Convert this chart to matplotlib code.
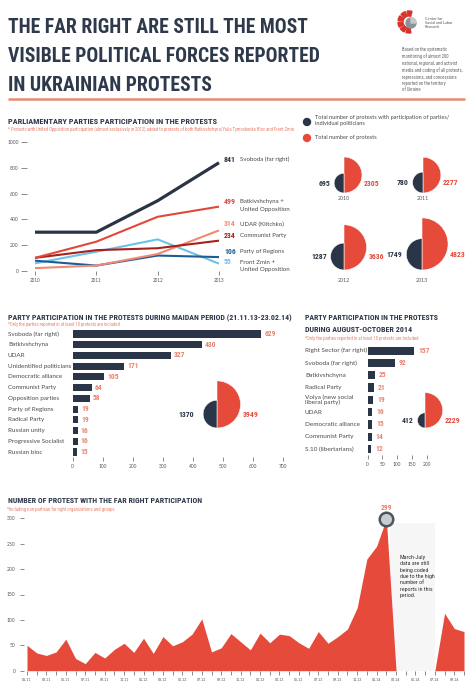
import matplotlib
matplotlib.use('Agg')
import matplotlib.pyplot as plt
import numpy as np
from matplotlib import font_manager
from matplotlib.patches import Wedge, Circle, Rectangle
from matplotlib.transforms import blended_transform_factory

# ---- data ----
years = [2010, 2011, 2012, 2013]
svoboda = [300, 300, 545, 841]
batkivshchyna = [100, 226, 420, 499]
udar = [20, 40, 130, 314]
communist = [100, 160, 175, 234]
regions = [78, 40, 118, 106]
front_zmin = [57, 148, 244, 55]
line_names = ['Svoboda (far right)', 'Batkivshchyna +\nUnited Opposition', 'UDAR (Klitchko)',
              'Communist Party', 'Party of Regions', 'Front Zmin +\nUnited Opposition']

pie_years = ['2010', '2011', '2012', '2013']
with_parties = [695, 780, 1287, 1749]
total_protests = [2305, 2277, 3636, 4823]

maidan_parties = ['Svoboda (far right)', 'Batkivshchyna', 'UDAR', 'Unidentified politicians',
                  'Democratic alliance', 'Communist Party', 'Opposition parties', 'Party of Regions',
                  'Radical Party', 'Russian unity', 'Progressive Socialist', 'Russian bloc']
maidan_values = [629, 430, 327, 171, 105, 64, 58, 19, 19, 16, 16, 15]
maidan_pie = [1370, 3949]

aug_parties = ['Right Sector (far right)', 'Svoboda (far right)', 'Batkivshchyna', 'Radical Party',
               'Volya (new social\nliberal party)', 'UDAR', 'Democratic alliance', 'Communist Party',
               'S.10 (libertarians)']
aug_values = [157, 92, 25, 21, 19, 16, 15, 14, 12]
aug_pie = [412, 2229]

far_right_monthly = [50, 35, 30, 37, 62, 24, 14, 36, 25, 42, 54, 36,
                     64, 34, 67, 49, 57, 72, 102, 37, 45, 73, 57, 41,
                     74, 55, 72, 69, 55, 44, 77, 54, 67, 82, 124, 220,
                     245, 299, 0, 0, 0, 0, 0, 113, 83, 77]
month_ticks = ['01.11', '03.11', '05.11', '07.11', '09.11', '11.11', '01.12', '03.12',
               '05.12', '07.12', '09.12', '11.12', '01.13', '03.13', '05.13', '07.13',
               '09.13', '11.13', '01.14', '03.14', '05.14', '07.14', '09.14']

# ---- style ----
NAVY = '#2b3548'
RED = '#e64a3b'
SALMON = '#e8826e'
TXT = '#4a4a4a'
names = {f.name for f in font_manager.fontManager.ttflist}
HEAD = next(f for f in ['Roboto Condensed', 'Liberation Sans Narrow', 'Open Sans Condensed',
                        'DejaVu Sans'] if f in names or f == 'DejaVu Sans')
BODY = 'Lato' if 'Lato' in names else 'DejaVu Sans'

W, H = 474, 698
fig = plt.figure(figsize=(W / 100, H / 100), dpi=100, facecolor='white')
renderer = fig.canvas.get_renderer()


def px_axes(x0, y0, x1, y1):
    ax = fig.add_axes([x0 / W, 1 - y1 / H, (x1 - x0) / W, (y1 - y0) / H])
    ax.patch.set_alpha(0)
    for s in ax.spines.values():
        s.set_visible(False)
    return ax


# overlay in pixel coordinates for texts and half-circle "pies"
ov = fig.add_axes([0, 0, 1, 1], zorder=10)
ov.set_xlim(0, W)
ov.set_ylim(H, 0)
ov.axis('off')
ov.patch.set_alpha(0)


def fit(t, width):
    bb = t.get_window_extent(renderer=renderer)
    t.set_fontsize(t.get_fontsize() * width / bb.width)
    return t


def heading(x, y, s, width, color=NAVY):
    t = ov.text(x, y, s, family=HEAD, weight='bold', color=color, fontsize=10, va='baseline')
    return fit(t, width)


def note(x, y, s, width):
    t = ov.text(x, y, s, family=HEAD, color=SALMON, fontsize=4, va='baseline')
    return fit(t, width)


# ---- header ----
heading(8, 33, 'THE FAR RIGHT ARE STILL THE MOST', 299, '#2e3a4b')
heading(8, 62, 'VISIBLE POLITICAL FORCES REPORTED', 310, '#2e3a4b')
heading(8, 91, 'IN UKRAINIAN PROTESTS', 203, '#2e3a4b')
for a in range(80, 290, 36):
    ov.add_patch(Wedge((409, 22), 11, a, a + 26, width=5, color='#d9342b'))
ov.add_patch(Circle((411, 23), 5, color='#8d9296'))
ov.add_patch(Wedge((411, 23), 5, -90, 0, color='#c5c8cb'))
ov.text(425, 23, 'Center for\nSocial and Labor\nResearch', family=BODY, fontsize=2.8,
        color='#555', va='center', linespacing=1.1)
ov.text(402, 47, 'Based on the systematic\nmonitoring of almost 200\nnational, regional, and activist\n'
        'media and coding of all protests,\nrepressions, and concessions\nreported on the territory\nof Ukraine',
        family=HEAD, fontsize=3.3, color='#666', va='top', linespacing=1.35)
ov.plot([8, 465], [99, 99], color='#ea8a72', lw=1.8, solid_capstyle='butt')

# ---- parliamentary parties lines ----
heading(8, 124, 'PARLIAMENTARY PARTIES PARTICIPATION IN THE PROTESTS', 210)
note(8, 132, '* Protests with United Opposition participation (almost exclusively in 2012) added to '
     'protests of both Batkivshchyna/Yulia Tymoshenko Bloc and Front Zmin', 284)

ax1 = px_axes(27, 142.3, 219, 270.7)
ax1.set_xlim(2010 - 8 / 61.33, 2013)
ax1.set_ylim(0, 1000)
series = [(front_zmin, '#6cc3ea', 1.5), (regions, '#1e5c93', 1.5), (udar, '#f08a72', 1.5),
          (communist, '#a8201c', 1.5), (batkivshchyna, '#e2473a', 1.5), (svoboda, '#2b3445', 2.3)]
for vals, c, lw in series:
    ax1.plot(years, vals, color=c, lw=lw, clip_on=False, solid_capstyle='butt')
ax1.set_xticks(years)
ax1.set_yticks(range(0, 1001, 200))
ax1.tick_params(axis='x', direction='out', length=3, width=0.6, color='#777',
                labelsize=3.3, labelcolor='#555', pad=2)
ax1.tick_params(axis='y', direction='out', length=4, width=0.6, color='#777',
                labelsize=3.6, labelcolor='#555', pad=2)
for lab in ax1.get_xticklabels() + ax1.get_yticklabels():
    lab.set_family(BODY)

end_vals = [svoboda[-1], batkivshchyna[-1], udar[-1], communist[-1], regions[-1], front_zmin[-1]]
end_cols = ['#2b3445', '#e2473a', '#f08a72', '#a8201c', '#1e5c93', '#6cc3ea']
end_y = [159, 202, 224, 236, 252, 262]
for v, c, y, nm in zip(end_vals, end_cols, end_y, line_names):
    ov.text(224, y, str(v), family=HEAD, weight='bold', fontsize=5.6, color=c, va='center')
    for k, part in enumerate(nm.split('\n')):
        ov.text(240, y + 7.7 * k, part, family=BODY, fontsize=4.4, color=TXT, va='center')

# ---- half-circle charts ----
K = 0.375


def half_pie(cx, base, small, big, lab_gap=4):
    R = K * np.sqrt(big)
    r = K * np.sqrt(small)
    ov.add_patch(Wedge((cx, base - R), R, -90, 90, facecolor=RED, edgecolor='white', lw=0.4))
    ov.add_patch(Wedge((cx, base - r), r, 90, 270, facecolor=NAVY, edgecolor='white', lw=0.4))
    ov.text(cx - r - lab_gap, base - r, str(small), family=HEAD, weight='bold', fontsize=5.6,
            color=NAVY, ha='right', va='center')
    ov.text(cx + R + 2, base - r, str(big), family=HEAD, weight='bold', fontsize=5.6,
            color=RED, ha='left', va='center')


ov.add_patch(Circle((307, 122), 3.5, color=NAVY))
ov.add_patch(Circle((307, 138), 3.5, color=RED))
ov.text(315, 120.5, 'Total number of protests with participation of parties/\nindividual politicians',
        family=BODY, fontsize=4.1, color=TXT, va='center', linespacing=1.2)
ov.text(315, 138, 'Total number of protests', family=BODY, fontsize=4.1, color=TXT, va='center')

pie_cx = [344, 423, 344, 422]
pie_base = [193, 193, 270, 270]
year_y = [199, 199, 280, 280]
for cx, b, yy, s, t, yl in zip(pie_cx, pie_base, year_y, with_parties, total_protests, pie_years):
    half_pie(cx, b, s, t)
    ov.text(cx, yy, yl, family=BODY, fontsize=3.8, color='#555', ha='center', va='center')

# ---- Maidan period bars ----
heading(8, 320, 'PARTY PARTICIPATION IN THE PROTESTS DURING MAIDAN PERIOD (21.11.13-23.02.14)', 282)
note(8, 326, '*Only the parties reported in at least 10 protests are included', 111)

ax2 = px_axes(72.7, 328.6, 282.7, 457.4)
ypos = np.arange(len(maidan_values))
ax2.barh(ypos, maidan_values, height=0.66, color=NAVY)
ax2.set_ylim(len(maidan_values) - 0.5, -0.5)
ax2.set_xlim(0, 700)
ax2.set_xticks(range(0, 701, 100))
ax2.set_yticks([])
ax2.tick_params(axis='x', direction='out', length=3, width=0.6, color='#777',
                labelsize=3.5, labelcolor='#555', pad=2)
for lab in ax2.get_xticklabels():
    lab.set_family(BODY)
tr2 = blended_transform_factory(ov.transData, ax2.transData)
for i, (nm, v) in enumerate(zip(maidan_parties, maidan_values)):
    ax2.text(8, i, nm, transform=tr2, family=BODY, fontsize=4.5, color=TXT, va='center')
    ax2.annotate(str(v), (v, i), xytext=(3, 0), textcoords='offset pixels', family=HEAD,
                 weight='bold', fontsize=5.4, color=SALMON, va='center')
half_pie(217, 428, maidan_pie[0], maidan_pie[1], lab_gap=9)

# ---- August-October 2014 bars ----
heading(305, 320, 'PARTY PARTICIPATION IN THE PROTESTS', 133)
heading(305, 331.7, 'DURING AUGUST-OCTOBER 2014', 106)
note(305, 340, '*Only the parties reported in at least 10 protests are included', 112)

ax3 = px_axes(367.7, 344.5, 444, 455.2)
ypos = np.arange(len(aug_values))
ax3.barh(ypos, aug_values, height=0.66, color=NAVY)
ax3.set_ylim(len(aug_values) - 0.5, -0.5)
ax3.set_xlim(0, 76.3 / 0.295)
ax3.set_xticks(range(0, 201, 50))
ax3.set_yticks([])
ax3.tick_params(axis='x', direction='out', length=3, width=0.6, color='#777',
                labelsize=3.5, labelcolor='#555', pad=2)
for lab in ax3.get_xticklabels():
    lab.set_family(BODY)
tr3 = blended_transform_factory(ov.transData, ax3.transData)
for i, (nm, v) in enumerate(zip(aug_parties, aug_values)):
    ax3.text(305, i, nm, transform=tr3, family=BODY, fontsize=4.6, color=TXT, va='center',
             linespacing=1.05)
    ax3.annotate(str(v), (v, i), xytext=(4, 0), textcoords='offset pixels', family=HEAD,
                 weight='bold', fontsize=5.4, color=SALMON, va='center')
half_pie(425, 428, aug_pie[0], aug_pie[1], lab_gap=4)

# ---- far right monthly area ----
heading(8, 502.7, 'NUMBER OF PROTEST WITH THE FAR RIGHT PARTICIPATION', 194)
note(7, 511, '*Including non-partisan far right organizations and groups', 108)

ax4 = px_axes(24, 518.3, 464, 670.7)
months = np.arange(len(far_right_monthly))
ax4.set_xlim(-3 / 9.711, months[-1])
ax4.set_ylim(0, 300)
ax4.add_patch(Rectangle((37.4, 0), 4.6, 291, color='#f6f6f6', zorder=0, lw=0))
ax4.fill_between(months, far_right_monthly, color=RED, lw=0, zorder=1)
peak = int(np.argmax(far_right_monthly))
ax4.scatter([peak], [far_right_monthly[peak]], s=95, facecolor='#c9ccd0', edgecolor='#4d555c',
            linewidths=1.8, zorder=3, clip_on=False)
ax4.annotate(str(far_right_monthly[peak]), (peak, far_right_monthly[peak]), xytext=(0, 11),
             textcoords='offset pixels', family=HEAD, weight='bold', fontsize=5.4, color=SALMON,
             ha='center', va='center', annotation_clip=False)
ax4.text(38.4, 228, 'March-July\ndata are still\nbeing coded\ndue to the high\nnumber of\nreports in this\nperiod.',
         family=HEAD, fontsize=4.3, color='#333', va='top', linespacing=1.35)
ax4.set_xticks(months)
ax4.set_xticklabels([month_ticks[i // 2] if i % 2 == 0 else '' for i in months])
ax4.set_yticks(range(0, 301, 50))
ax4.tick_params(axis='x', direction='out', length=3, width=0.6, color='#777',
                labelsize=2.6, labelcolor='#555', pad=2)
ax4.tick_params(axis='y', direction='out', length=3, width=0.6, color='#777',
                labelsize=3.6, labelcolor='#555', pad=3)
for lab in ax4.get_xticklabels() + ax4.get_yticklabels():
    lab.set_family(BODY)

fig.savefig('out.png', dpi=100, facecolor='white')
